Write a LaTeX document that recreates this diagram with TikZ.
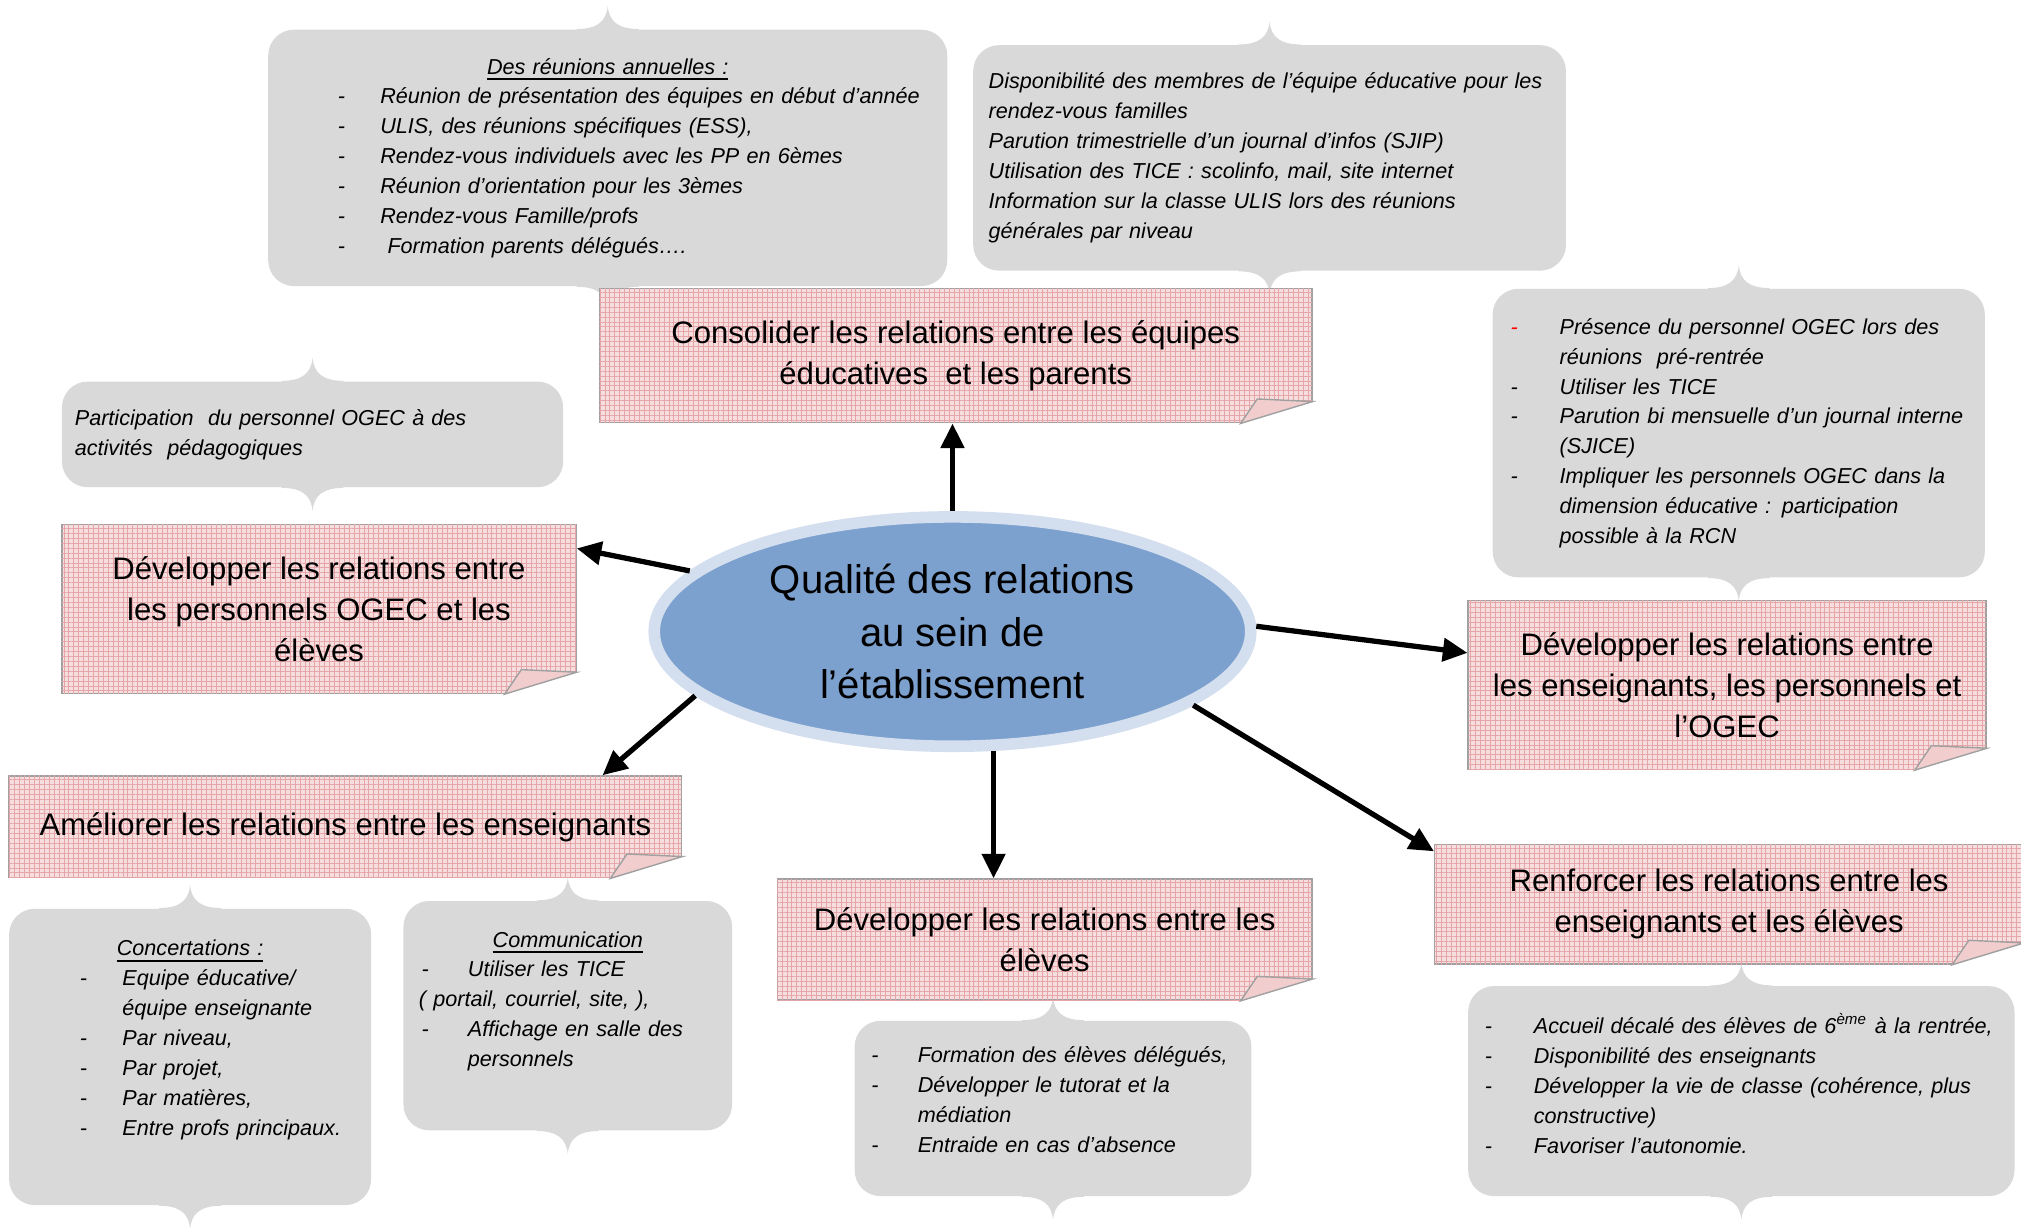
\documentclass[tikz,border=0pt]{standalone}
\usepackage{fontspec}
\setmainfont{Liberation Sans}
\usetikzlibrary{shapes.geometric,arrows.meta,patterns.meta}
\definecolor{rose}{RGB}{246,222,223}
\definecolor{roseligne}{RGB}{230,165,168}
\definecolor{gris}{RGB}{217,217,217}
\definecolor{bord}{RGB}{160,160,160}
\definecolor{bleu}{RGB}{124,161,206}
\definecolor{bleuclair}{RGB}{211,222,238}
\newlength\px \setlength\px{0.36673pt}
\newcommand{\tiret}[3][black]{\hspace*{#2\px}\makebox[#3\px][l]{\textcolor{#1}{-}}}
\newcommand{\suite}[1]{\hspace*{#1\px}}
\newcommand{\pied}[1]{\rule[-#1\px]{0pt}{#1\px}}
\begin{document}
\begin{tikzpicture}[x=0.012889cm,y=-0.012889cm,
objectif/.style 2 args={rectangle,draw=bord,fill=rose,postaction={pattern={Hatch[angle=0,distance=1.4pt,line width=0.25pt]},pattern color=roseligne},
minimum width=#1\px,minimum height=#2\px,inner sep=0pt,align=center,font=\fontsize{8.85}{11.7}\selectfont},
bulle/.style 2 args={rectangle,rounded corners=20\px,fill=gris,text width=#1\px,minimum width=#1\px,minimum height=#2\px,
inner sep=0pt,align=left,font=\fontsize{6.15}{8.5}\selectfont\itshape},
fleche/.style={line width=1.5pt,-{Triangle[length=7pt,width=6.5pt]}}]
\useasboundingbox (0,0) rectangle (1568,952);

\node[bulle={527}{199}](reunions) at (471.5,122.5){\makebox[527\px]{\underline{Des réunions annuelles :}}\\
\tiret{54}{33}Réunion de présentation des équipes en début d’année\\
\tiret{54}{33}ULIS, des réunions spécifiques (ESS),\\
\tiret{54}{33}Rendez-vous individuels avec les PP en 6èmes\\
\tiret{54}{33}Réunion d’orientation pour les 3èmes\\
\tiret{54}{33}Rendez-vous Famille/profs\\
\tiret{54}{33}\ Formation parents délégués….};
\node[bulle={460}{175}](dispo) at (985,122.5){\suite{12}Disponibilité des membres de l’équipe éducative pour les\\
\suite{12}rendez-vous familles\\
\suite{12}Parution trimestrielle d’un journal d’infos (SJIP)\\
\suite{12}Utilisation des TICE : scolinfo, mail, site internet\\
\suite{12}Information sur la classe ULIS lors des réunions\\
\suite{12}générales par niveau};
\node[bulle={389}{82}](particip) at (242.5,337){\suite{10}Participation \ du personnel OGEC à des\\
\suite{10}activités \ pédagogiques};
\node[bulle={382}{224}](presence) at (1349,336){\tiret[red]{14}{38}Présence du personnel OGEC lors des\\
\suite{52}réunions \ pré-rentrée\\
\tiret{14}{38}Utiliser les TICE\\
\tiret{14}{38}Parution bi mensuelle d’un journal interne\\
\suite{52}(SJICE)\\
\tiret{14}{38}Impliquer les personnels OGEC dans la\\
\suite{52}dimension éducative : participation\\
\suite{52}possible à la RCN};
\node[bulle={281}{230}](concert) at (147.5,820){\makebox[281\px]{\underline{Concertations :}}\\
\tiret{55}{33}Equipe éducative/\\
\suite{88}équipe enseignante\\
\tiret{55}{33}Par niveau,\\
\tiret{55}{33}Par projet,\\
\tiret{55}{33}Par matières,\\
\tiret{55}{33}Entre profs principaux.\pied{30}};
\node[bulle={255}{178}](commu) at (440.5,788){\makebox[255\px]{\underline{Communication}}\\
\tiret{14}{36}Utiliser les TICE\\
\suite{12}( portail, courriel, site, ),\\
\tiret{14}{36}Affichage en salle des\\
\suite{50}personnels\pied{26}};
\node[bulle={308}{136}](formation) at (817,860){\tiret{13}{36}Formation des élèves délégués,\\
\tiret{13}{36}Développer le tutorat et la\\
\suite{49}médiation\\
\tiret{13}{36}Entraide en cas d’absence\pied{14}};
\node[bulle={424}{163}](accueil) at (1351,846.5){\tiret{13}{38}Accueil décalé des élèves de 6\textsuperscript{ème} à la rentrée,\\
\tiret{13}{38}Disponibilité des enseignants\\
\tiret{13}{38}Développer la vie de classe (cohérence, plus\\
\suite{51}constructive)\\
\tiret{13}{38}Favoriser l’autonomie.\pied{12}};

\foreach \b in {reunions,dispo,particip,presence,concert,commu,formation,accueil}{
\fill[gris] ([xshift=-24\px,yshift=-1pt]\b.north) -- ([xshift=-24\px]\b.north) .. controls ([xshift=-8\px]\b.north) and ([xshift=-1\px,yshift=6\px]\b.north) .. ([yshift=18\px]\b.north)
 .. controls ([xshift=1\px,yshift=6\px]\b.north) and ([xshift=8\px]\b.north) .. ([xshift=24\px]\b.north) -- ([xshift=24\px,yshift=-1pt]\b.north) -- cycle;
\fill[gris] ([xshift=-24\px,yshift=1pt]\b.south) -- ([xshift=-24\px]\b.south) .. controls ([xshift=-8\px]\b.south) and ([xshift=-1\px,yshift=-6\px]\b.south) .. ([yshift=-18\px]\b.south)
 .. controls ([xshift=1\px,yshift=-6\px]\b.south) and ([xshift=8\px]\b.south) .. ([xshift=24\px]\b.south) -- ([xshift=24\px,yshift=1pt]\b.south) -- cycle;
}

\node[objectif={553}{104}](consolider) at (741.5,276){Consolider les relations entre les équipes\\éducatives \ et les parents};
\node[objectif={399}{131}](ogec) at (247.5,472.5){Développer les relations entre\\les personnels OGEC et les\\élèves};
\node[objectif={402}{131}](personnels) at (1340,531.5){Développer les relations entre\\les enseignants, les personnels et\\l’OGEC};
\node[objectif={522}{79}](ameliorer) at (268,641.5){Améliorer les relations entre les enseignants};
\node[objectif={415}{94}](eleves) at (810.5,729){Développer les relations entre les\\élèves};
\node[objectif={457}{93}](renforcer) at (1341.5,701.5){Renforcer les relations entre les\\enseignants et les élèves};

\foreach \o in {consolider,ogec,personnels,ameliorer,eleves,renforcer}{
\fill[white] ([xshift=-56\px]\o.south east) -- ([xshift=-56\px,yshift=-1pt]\o.south east) -- ([xshift=1pt,yshift=-1pt]\o.south east)
 -- ([xshift=1pt,yshift=17\px]\o.south east) -- ([yshift=17\px]\o.south east) -- cycle;
\filldraw[draw=bord,fill=rose!70!roseligne] ([xshift=-56\px]\o.south east) -- ([xshift=-43\px,yshift=19\px]\o.south east) -- ([yshift=17\px]\o.south east) -- cycle;
}

\node[ellipse,draw=bleuclair,line width=9\px,fill=bleu,minimum width=463\px,minimum height=178\px,inner sep=0pt,
align=center,font=\fontsize{11.4}{14.85}\selectfont](qualite) at (739,490){Qualité des relations\\au sein de\\l’établissement};

\begin{scope}[fleche]
\draw (qualite.north) -- (qualite.north |- consolider.south);
\draw (qualite.167) -- ([yshift=-19\px]ogec.north east);
\draw (qualite.1) -- ([yshift=25\px]personnels.west);
\draw (qualite.194) -- ([xshift=-62\px]ameliorer.north east);
\draw (qualite.-71) -- (qualite.-71 |- eleves.north);
\draw (qualite.-17) -- ([yshift=-6\px]renforcer.north west);
\end{scope}
\end{tikzpicture}
\end{document}
